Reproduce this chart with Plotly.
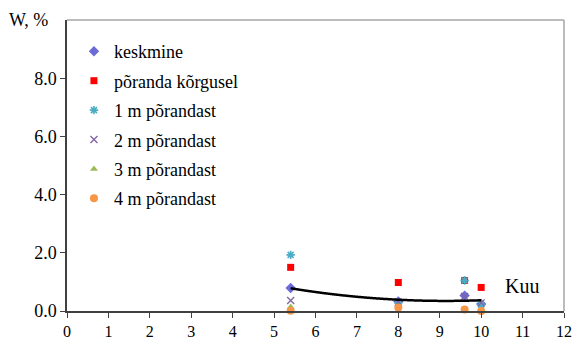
import numpy as np
import plotly.graph_objects as go

# Data
months = [5.4, 8.0, 9.6, 10.0]
keskmine = [0.79, 0.33, 0.53, 0.24]
poranda = [1.50, 0.98, 1.05, 0.81]
m1 = [1.93, 0.28, 1.05, 0.22]
m2 = [0.36, 0.30, 0.50, 0.28]
m3 = [0.14, 0.02, 0.04, 0.00]
m4 = [0.01, 0.12, 0.05, 0.00]

series_names = ["keskmine", "põranda kõrgusel", "1 m põrandast",
                "2 m põrandast", "3 m põrandast", "4 m põrandast"]
x_ticks = list(range(0, 13))
y_ticks = [0, 2, 4, 6, 8]

FONT = "Liberation Serif"

styles = [
    dict(symbol="diamond", color="#6A6AD8", size=8),
    dict(symbol="square", color="#FF0000", size=7),
    dict(symbol="asterisk-open", color="#4BACC6", size=7, line=dict(width=1.6, color="#4BACC6")),
    dict(symbol="x-thin-open", color="#8064A2", size=7, line=dict(width=1.3, color="#8064A2")),
    dict(symbol="triangle-up", color="#9BBB59", size=7),
    dict(symbol="circle", color="#F79646", size=8),
]

fig = go.Figure()
for name, ys, st in zip(series_names, [keskmine, poranda, m1, m2, m3, m4], styles):
    fig.add_trace(go.Scatter(
        x=months, y=ys, mode="markers", name=name, legendgroup=name,
        marker=st, cliponaxis=False))

# Polynomial (2nd order) trend of "keskmine"
coef = np.polyfit(months, keskmine, 2)
xt = np.linspace(min(months), max(months), 200)
yt = np.polyval(coef, xt)
fig.add_trace(go.Scatter(x=xt, y=yt, mode="lines", showlegend=False,
                         line=dict(color="black", width=2.5, shape="spline")))

fig.update_layout(
    width=574, height=341, autosize=False,
    margin=dict(l=67, r=10, t=20, b=30, autoexpand=False),
    paper_bgcolor="white", plot_bgcolor="white",
    font=dict(family=FONT, color="black", size=18),
    showlegend=True,
    legend=dict(x=0.014, y=0.955, xanchor="left", yanchor="top",
                bgcolor="rgba(0,0,0,0)", font=dict(size=18, family=FONT),
                tracegroupgap=3, traceorder="grouped"),
    xaxis=dict(range=[0, 12], tickvals=x_ticks, ticks="outside", ticklen=5,
               tickcolor="#404040", showline=True, linecolor="#404040", linewidth=1.5,
               showgrid=False, zeroline=False, automargin=False,
               tickfont=dict(size=16, family=FONT)),
    yaxis=dict(range=[0, 10], tickvals=y_ticks, ticktext=[f"{v:.1f}" for v in y_ticks],
               ticks="outside", ticklen=5, tickcolor="#404040",
               showline=True, linecolor="#404040", linewidth=1.5,
               showgrid=False, zeroline=False, automargin=False,
               tickfont=dict(size=18, family=FONT)),
    annotations=[
        dict(text="W, %", xref="paper", yref="paper", x=-0.034, y=1.0,
             xanchor="right", yanchor="middle", showarrow=False,
             font=dict(size=18, family=FONT)),
        dict(text="Kuu", xref="x", yref="y", x=10.52, y=0.85,
             xanchor="left", yanchor="middle", showarrow=False,
             font=dict(size=20, family=FONT)),
    ],
    shapes=[
        dict(type="line", xref="paper", yref="paper", x0=0, x1=1, y0=1, y1=1,
             line=dict(color="#A6A6A6", width=1.5)),
        dict(type="line", xref="paper", yref="paper", x0=1, x1=1, y0=0, y1=1,
             line=dict(color="#A6A6A6", width=1.5)),
    ],
)

fig.write_html("out.html")
